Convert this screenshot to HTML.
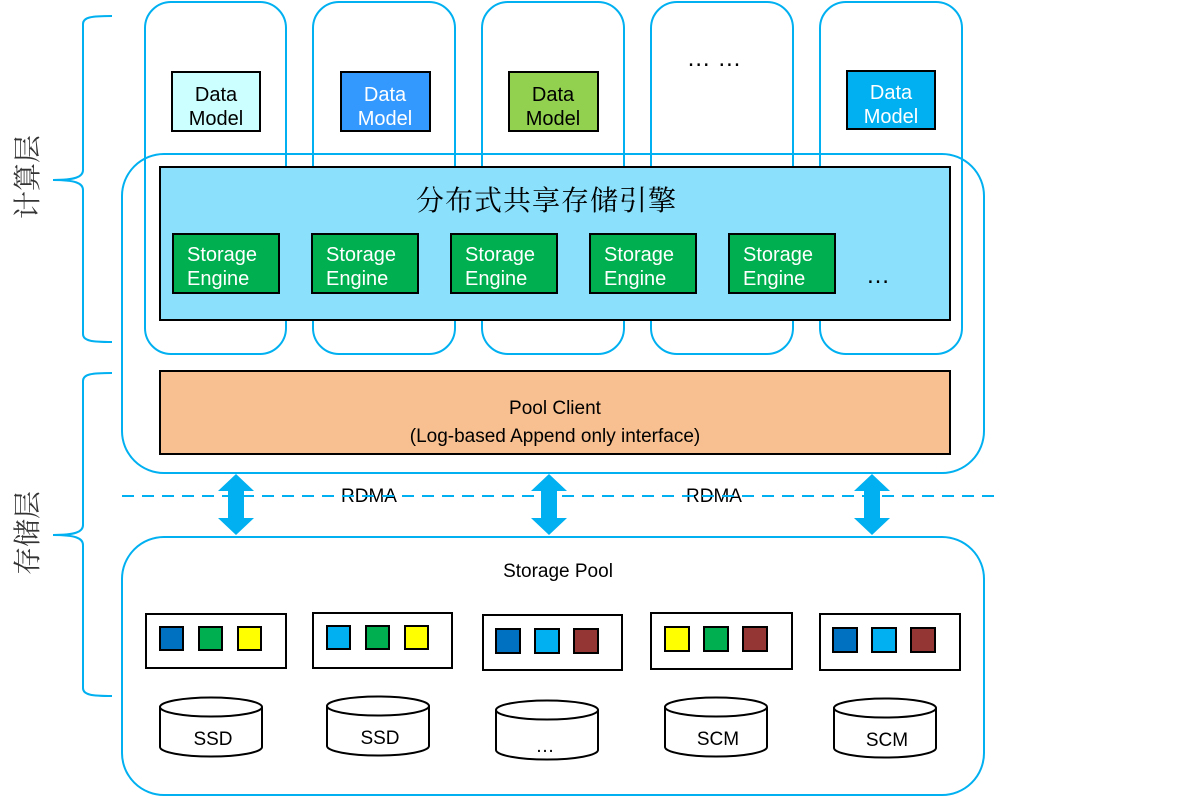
<!DOCTYPE html>
<html><head><meta charset="utf-8"><style>
html,body{margin:0;padding:0;background:#fff;}
svg{display:block;}
text{font-family:"Liberation Sans",Arial,sans-serif;}
.cn{font-family:"Liberation Serif","Noto Serif CJK SC","Noto Sans CJK SC",serif;}
</style></head><body>
<svg width="1201" height="797" viewBox="0 0 1201 797" xmlns="http://www.w3.org/2000/svg">
<g fill="none" stroke="#00b0f0" stroke-width="2">
<path d="M112,16 C92,16 83,17 83,24 L83,170 C83,177 75,180 53,180 C75,180 83,183 83,190 L83,334 C83,341 92,342 112,342"/>
<path d="M112,373 C92,373 83,374 83,381 L83,525 C83,532 75,535 53,535 C75,535 83,538 83,545 L83,688 C83,695 92,696 112,696"/>
</g>
<text class="cn" transform="translate(37,177) rotate(-90)" text-anchor="middle" font-size="28" fill="#333">计算层</text>
<text class="cn" transform="translate(37,533) rotate(-90)" text-anchor="middle" font-size="28" fill="#333">存储层</text>

<g fill="none" stroke="#00b0f0" stroke-width="2">
<rect x="145" y="2" width="141" height="352" rx="26"/>
<rect x="313" y="2" width="142" height="352" rx="26"/>
<rect x="482" y="2" width="142" height="352" rx="26"/>
<rect x="651" y="2" width="142" height="352" rx="26"/>
<rect x="820" y="2" width="142" height="352" rx="26"/>
<rect x="122" y="154" width="862" height="319" rx="42"/>
<rect x="122" y="537" width="862" height="258" rx="42"/>
</g>

<g stroke="#000" stroke-width="2">
<rect x="172" y="72" width="88" height="59" fill="#ccffff"/>
<rect x="341" y="72" width="89" height="59" fill="#3399ff"/>
<rect x="509" y="72" width="89" height="59" fill="#92d050"/>
<rect x="847" y="71" width="88" height="58" fill="#00b0f0"/>
</g>
<g font-size="20" text-anchor="middle">
<text x="216" y="101" fill="#000">Data</text><text x="216" y="125" fill="#000">Model</text>
<text x="385" y="101" fill="#fff">Data</text><text x="385" y="125" fill="#fff">Model</text>
<text x="553" y="101" fill="#000">Data</text><text x="553" y="125" fill="#000">Model</text>
<text x="891" y="99" fill="#fff">Data</text><text x="891" y="123" fill="#fff">Model</text>
</g>
<text x="714" y="66" font-size="24" text-anchor="middle" fill="#000">… …</text>

<rect x="160" y="167" width="790" height="153" fill="#8be0fc" stroke="#000" stroke-width="2"/>
<text class="cn" x="546" y="210" font-size="28" text-anchor="middle" fill="#000" textLength="260">分布式共享存储引擎</text>
<g stroke="#000" stroke-width="2" fill="#00b050">
<rect x="173" y="234" width="106" height="59"/>
<rect x="312" y="234" width="106" height="59"/>
<rect x="451" y="234" width="106" height="59"/>
<rect x="590" y="234" width="106" height="59"/>
<rect x="729" y="234" width="106" height="59"/>
</g>
<g font-size="20" fill="#fff">
<text x="187" y="261">Storage</text><text x="187" y="285">Engine</text>
<text x="326" y="261">Storage</text><text x="326" y="285">Engine</text>
<text x="465" y="261">Storage</text><text x="465" y="285">Engine</text>
<text x="604" y="261">Storage</text><text x="604" y="285">Engine</text>
<text x="743" y="261">Storage</text><text x="743" y="285">Engine</text>
</g>
<text x="878" y="283" font-size="24" text-anchor="middle" fill="#000">…</text>

<rect x="160" y="371" width="790" height="83" fill="#f8c090" stroke="#000" stroke-width="2"/>
<text x="555" y="414" font-size="19" text-anchor="middle" fill="#000">Pool Client</text>
<text x="555" y="442" font-size="19" text-anchor="middle" fill="#000">(Log-based Append only interface)</text>

<text x="369" y="502" font-size="19" text-anchor="middle" fill="#000">RDMA</text>
<text x="714" y="502" font-size="19" text-anchor="middle" fill="#000">RDMA</text>
<line x1="122" y1="496" x2="998" y2="496" stroke="#00b0f0" stroke-width="2" stroke-dasharray="12,8"/>
<g fill="#00b0f0">
<path d="M236,474 L254,491 L244,491 L244,518 L254,518 L236,535 L218,518 L228,518 L228,491 L218,491 Z"/>
<path d="M549,474 L567,491 L557,491 L557,518 L567,518 L549,535 L531,518 L541,518 L541,491 L531,491 Z"/>
<path d="M872,474 L890,491 L880,491 L880,518 L890,518 L872,535 L854,518 L864,518 L864,491 L854,491 Z"/>
</g>

<text x="558" y="577" font-size="19" text-anchor="middle" fill="#000">Storage Pool</text>
<g stroke="#000" stroke-width="2" fill="#fff">
<rect x="146" y="614" width="140" height="54"/>
<rect x="313" y="613" width="139" height="55"/>
<rect x="483" y="615" width="139" height="55"/>
<rect x="651" y="613" width="141" height="56"/>
<rect x="820" y="614" width="140" height="56"/>
</g>
<g stroke="#000" stroke-width="2">
<rect x="160" y="627" width="23" height="23" fill="#0070c0"/>
<rect x="199" y="627" width="23" height="23" fill="#00b050"/>
<rect x="238" y="627" width="23" height="23" fill="#ffff00"/>
<rect x="327" y="626" width="23" height="23" fill="#00b0f0"/>
<rect x="366" y="626" width="23" height="23" fill="#00b050"/>
<rect x="405" y="626" width="23" height="23" fill="#ffff00"/>
<rect x="496" y="629" width="24" height="24" fill="#0070c0"/>
<rect x="535" y="629" width="24" height="24" fill="#00b0f0"/>
<rect x="574" y="629" width="24" height="24" fill="#943634"/>
<rect x="665" y="627" width="24" height="24" fill="#ffff00"/>
<rect x="704" y="627" width="24" height="24" fill="#00b050"/>
<rect x="743" y="627" width="24" height="24" fill="#943634"/>
<rect x="833" y="628" width="24" height="24" fill="#0070c0"/>
<rect x="872" y="628" width="24" height="24" fill="#00b0f0"/>
<rect x="911" y="628" width="24" height="24" fill="#943634"/>
</g>
<g stroke="#000" stroke-width="2" fill="#fff">
<path d="M160,707 L160,747 A51,9.5 0 0 0 262,747 L262,707"/><ellipse cx="211" cy="707" rx="51" ry="9.5"/>
<path d="M327,706 L327,746 A51,9.5 0 0 0 429,746 L429,706"/><ellipse cx="378" cy="706" rx="51" ry="9.5"/>
<path d="M496,710 L496,750 A51,9.5 0 0 0 598,750 L598,710"/><ellipse cx="547" cy="710" rx="51" ry="9.5"/>
<path d="M665,707 L665,747 A51,9.5 0 0 0 767,747 L767,707"/><ellipse cx="716" cy="707" rx="51" ry="9.5"/>
<path d="M834,708 L834,748 A51,9.5 0 0 0 936,748 L936,708"/><ellipse cx="885" cy="708" rx="51" ry="9.5"/>
</g>
<g font-size="19" text-anchor="middle" fill="#000">
<text x="213" y="745">SSD</text>
<text x="380" y="744">SSD</text>
<text x="545" y="752">…</text>
<text x="718" y="745">SCM</text>
<text x="887" y="746">SCM</text>
</g>
</svg>
</body></html>
